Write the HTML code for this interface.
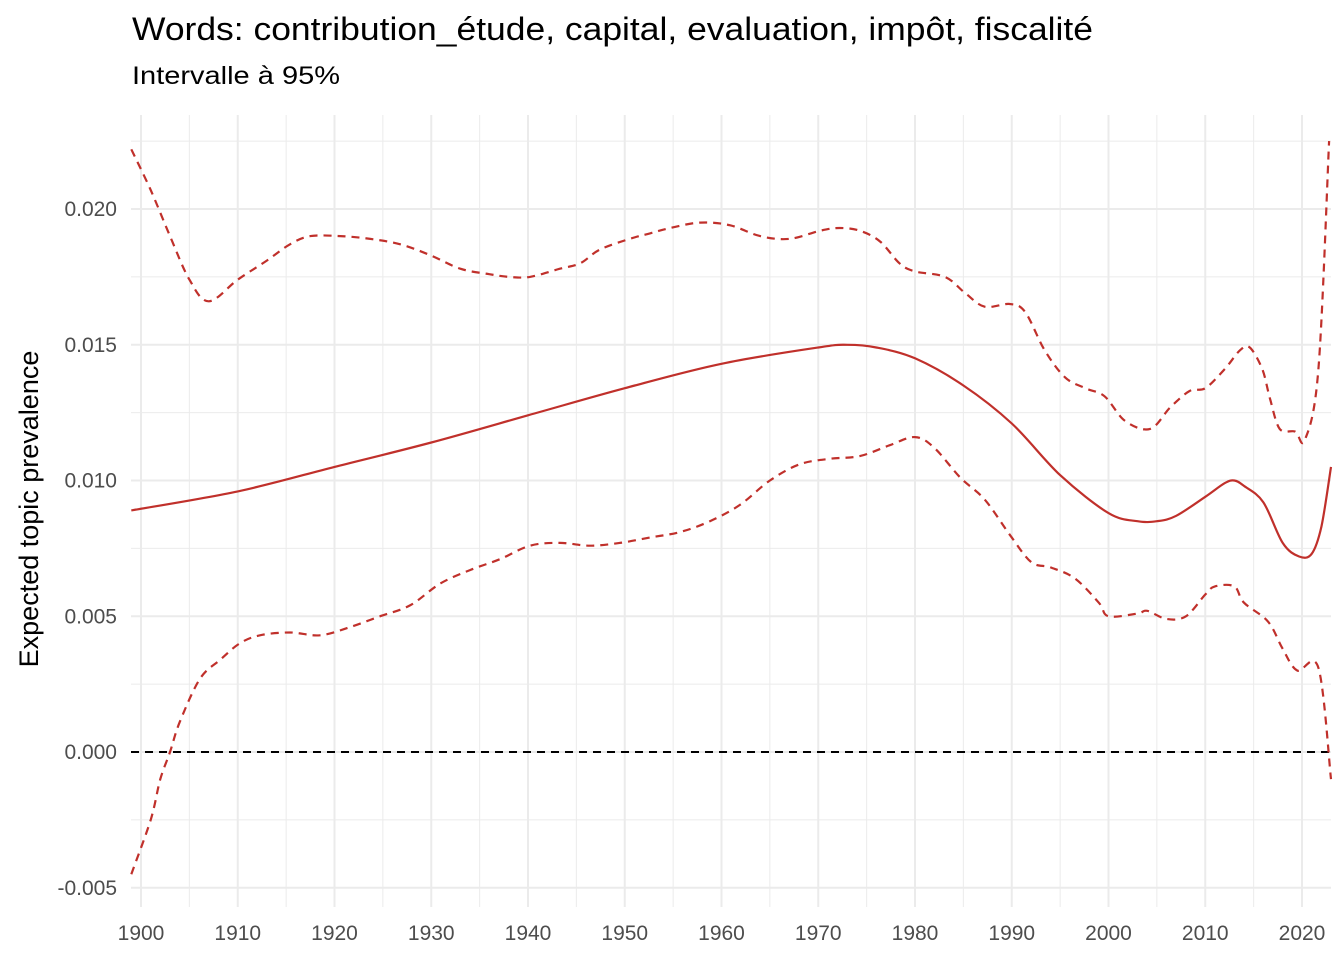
<!DOCTYPE html>
<html><head><meta charset="utf-8"><style>
body{margin:0;background:#fff;}
svg{display:block;font-family:"Liberation Sans",sans-serif;}
</style></head><body>
<svg id="chart" width="1344" height="960">
<text x="132" y="40" font-size="32" textLength="961" lengthAdjust="spacingAndGlyphs" fill="#000">Words: contribution_étude, capital, evaluation, impôt, fiscalité</text>
<text x="132" y="84" font-size="25" textLength="208" lengthAdjust="spacingAndGlyphs" fill="#000">Intervalle à 95%</text>
<text transform="translate(38,509) rotate(-90)" text-anchor="middle" font-size="27" fill="#000">Expected topic prevalence</text>
<g id="grid"></g><g id="ticks"></g><g id="series"></g>
</svg>
<script>
const meanYears=[1899,1910,1920,1930,1940,1950,1960,1970,1973,1976,1980,1985,1990,1995,2000,2003,2005,2007,2010,2012,2013,2014,2016,2018,2019.7,2021,2022,2023];
const meanVals=[0.0089,0.0096,0.0105,0.0114,0.0124,0.0134,0.0143,0.0149,0.0150,0.0149,0.0145,0.0135,0.0121,0.0102,0.0088,0.0085,0.0085,0.0087,0.0094,0.0099,0.0100,0.0098,0.0092,0.0077,0.0072,0.0073,0.0083,0.0105];
const upperYears=[1899,1901,1903,1905,1907,1910,1913,1915.4,1917.5,1920.6,1923.7,1926.8,1929.9,1933,1936,1938,1940.2,1943.3,1945.4,1947.4,1950.5,1952.6,1954.7,1957.8,1960.9,1964,1967,1970.2,1972.2,1974.3,1976.4,1978.4,1980,1983.1,1985.2,1987.2,1989.8,1991.4,1993.4,1995.5,1997.6,1999.6,2001.7,2004.3,2006.4,2008.4,2010,2012,2013.6,2014.6,2015.9,2016.7,2017.7,2019.3,2020.3,2021.7,2022.8];
const upperVals=[0.0222,0.0207,0.0190,0.0174,0.0166,0.0174,0.0181,0.0187,0.0190,0.0190,0.0189,0.0187,0.0183,0.0178,0.0176,0.0175,0.0175,0.0178,0.0180,0.0185,0.0189,0.0191,0.0193,0.0195,0.0194,0.0190,0.0189,0.0192,0.0193,0.0192,0.0188,0.0180,0.0177,0.0175,0.0169,0.0164,0.0165,0.0162,0.0148,0.0138,0.0134,0.0131,0.0122,0.0119,0.0127,0.0133,0.0134,0.0141,0.0148,0.0149,0.0141,0.0130,0.0119,0.0118,0.0115,0.0141,0.0225];
const lowerYears=[1899,1901,1902,1903,1904,1906.1,1908.2,1910.2,1912.3,1915.4,1918.5,1921.6,1924.7,1927.8,1930.9,1934,1937.1,1940.2,1943.3,1946.4,1949.5,1952.6,1955.7,1958.8,1961.9,1965,1968.1,1971.2,1974.3,1977.4,1980,1982,1984.7,1987.2,1989.8,1992,1994,1996.5,1999,2000,2003,2004,2006,2008,2010,2011,2013,2014,2016.5,2018,2019.5,2021.7,2023];
const lowerVals=[-0.0045,-0.0025,-0.0010,0.0000,0.0011,0.0027,0.0034,0.0040,0.0043,0.0044,0.0043,0.0046,0.0050,0.0054,0.0062,0.0067,0.0071,0.0076,0.0077,0.0076,0.0077,0.0079,0.0081,0.0085,0.0091,0.0100,0.0106,0.0108,0.0109,0.0113,0.0116,0.0112,0.0101,0.0093,0.0080,0.0070,0.0068,0.0064,0.0055,0.0050,0.0051,0.0052,0.0049,0.0050,0.0058,0.0061,0.0061,0.0055,0.0048,0.0038,0.0030,0.0031,-0.0010];
const xTicks=[1900,1910,1920,1930,1940,1950,1960,1970,1980,1990,2000,2010,2020];
const yTicks=[-0.005,0,0.005,0.010,0.015,0.020];
const yTickLabels=["-0.005","0.000","0.005","0.010","0.015","0.020"];

const NS="http://www.w3.org/2000/svg";
const X=y=>141+(y-1900)*9.675;
const Y=v=>752-v*27150;
const P0=131,P1=1331,T=115,B=907;
function mk(tag,attrs,parent){const e=document.createElementNS(NS,tag);for(const k in attrs)e.setAttribute(k,attrs[k]);parent.appendChild(e);return e;}
const grid=document.getElementById('grid'),ticks=document.getElementById('ticks'),ser=document.getElementById('series');
for(let yr=1895;yr<=2025;yr+=5){const x=X(yr);if(x<P0||x>P1)continue;
 const l=mk('line',{x1:x,x2:x,y1:T,y2:B,stroke:'#ebebeb','stroke-width':yr%10===0?2:1},grid);
 
 }
for(let v=-0.005;v<=0.0226;v+=0.0025){const y=Y(v);if(y<T)continue;
 const major=Math.abs(Math.round(v/0.005)*0.005-v)<1e-6;
 const l=mk('line',{x1:P0,x2:P1,y1:y,y2:y,stroke:'#ebebeb','stroke-width':major?2:1},grid);
 
 }
xTicks.forEach(t=>{const e=mk('text',{x:X(t),y:940,'text-anchor':'middle','font-size':21,fill:'#4d4d4d'},ticks);e.textContent=t;
 
 });
yTicks.forEach((t,i)=>{const e=mk('text',{x:117,y:Y(t)+7,'text-anchor':'end','font-size':21,fill:'#4d4d4d'},ticks);e.textContent=yTickLabels[i];
 
 });
const zero=mk('line',{x1:P0,x2:P1,y1:Y(0),y2:Y(0),stroke:'#000','stroke-width':2,'stroke-dasharray':'8,6'},ser);


function path(xs,vs,dash,name){
 const pts=xs.map((x,i)=>[X(x),Y(vs[i])]);
 let d='M'+pts[0][0].toFixed(1)+','+pts[0][1].toFixed(1);
 for(let i=0;i<pts.length-1;i++){const p0=pts[Math.max(0,i-1)],p1=pts[i],p2=pts[i+1],p3=pts[Math.min(pts.length-1,i+2)];
  const c1=[p1[0]+(p2[0]-p0[0])/6,p1[1]+(p2[1]-p0[1])/6],c2=[p2[0]-(p3[0]-p1[0])/6,p2[1]-(p3[1]-p1[1])/6];
  d+='C'+c1[0].toFixed(1)+','+c1[1].toFixed(1)+' '+c2[0].toFixed(1)+','+c2[1].toFixed(1)+' '+p2[0].toFixed(1)+','+p2[1].toFixed(1);}
 const p=mk('path',{d:d,fill:'none',stroke:'#c0302b','stroke-width':2.2,'stroke-linejoin':'round'},ser);
 if(dash)p.setAttribute('stroke-dasharray','8,6');
 
 }
path(upperYears,upperVals,true,'upper-ci-line');
path(lowerYears,lowerVals,true,'lower-ci-line');
path(meanYears,meanVals,false,'mean-prevalence-line');
</script>
</body></html>
